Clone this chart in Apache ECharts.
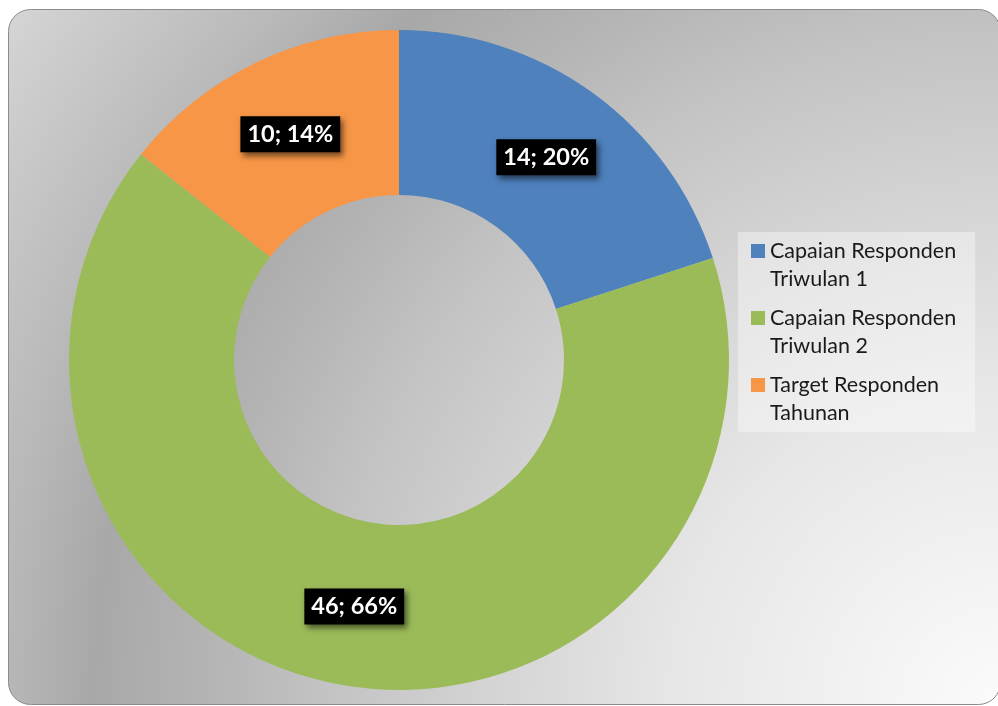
<!DOCTYPE html>
<html>
<head>
<meta charset="utf-8">
<title>Capaian Responden</title>
<script src="https://cdn.jsdelivr.net/npm/echarts@6/dist/echarts.min.js"></script>
<style>
  html, body { margin: 0; padding: 0; background: #fff; }
  #box01 { width: 998px; height: 706px; }
</style>
</head>
<body>
<div id="box01"></div>
<script>
// data
var categories = ['Capaian Responden\nTriwulan 1', 'Capaian Responden\nTriwulan 2', 'Target Responden\nTahunan'];
var values = [14, 46, 10];
var colors = ['#4f81bd', '#9bbb59', '#f79646'];

var myChart = echarts.init(document.getElementById('box01'));

var pieData = [];
for (var i = 0; i < categories.length; i++) {
    pieData.push({ name: categories[i], value: values[i], itemStyle: { color: colors[i] } });
}

var option = {
    backgroundColor: '#ffffff',
    animation: false,
    graphic: [
        {
            type: 'rect',
            z: -10,
            silent: true,
            shape: { x: 8.5, y: 9.5, width: 992, height: 695, r: 22 },
            style: {
                stroke: '#8c8c8c',
                lineWidth: 1,
                fill: {
                    type: 'radial', x: 998, y: 706, r: 1222, global: true,
                    colorStops: [
                        { offset: 0, color: '#fbfbfb' },
                        { offset: 0.27, color: '#e6e6e6' },
                        { offset: 0.55, color: '#c3c3c3' },
                        { offset: 0.64, color: '#b5b5b5' },
                        { offset: 0.74, color: '#a8a8a8' },
                        { offset: 0.82, color: '#b9b9b9' },
                        { offset: 0.96, color: '#d0d0d0' },
                        { offset: 1, color: '#d8d8d8' }
                    ]
                }
            }
        }
    ],
    legend: {
        orient: 'vertical',
        left: 738,
        top: 232,
        padding: [5, 19, 5, 13],
        backgroundColor: 'rgba(255,255,255,0.38)',
        itemWidth: 14,
        itemHeight: 56,
        itemGap: 11,
        icon: 'path://M0,7L14,7L14,21L0,21Z M0,0L0.01,0 M0,56L0.01,56',
        itemStyle: { borderWidth: 0 },
        selectedMode: false,
        textStyle: {
            fontFamily: 'Lato',
            fontSize: 21.5,
            lineHeight: 28,
            color: '#1a1a1a'
        },
        data: categories
    },
    series: [
        {
            type: 'pie',
            center: [399, 360],
            radius: [165, 330],
            startAngle: 90,
            clockwise: true,
            avoidLabelOverlap: false,
            itemStyle: { borderWidth: 0 },
            emphasis: { scale: false },
            label: {
                show: true,
                position: 'inside',
                formatter: function (p) {
                    return p.value + '; ' + Math.round(p.percent) + '%';
                },
                fontFamily: 'Lato',
                fontWeight: 'bold',
                fontSize: 23.5,
                lineHeight: 26,
                color: '#ffffff',
                backgroundColor: '#000000',
                padding: [5, 7, 5, 7],
                shadowColor: 'rgba(0,0,0,0.55)',
                shadowBlur: 6,
                shadowOffsetX: 3,
                shadowOffsetY: 4
            },
            labelLine: { show: false },
            data: pieData
        }
    ]
};

myChart.setOption(option);
</script>
</body>
</html>
